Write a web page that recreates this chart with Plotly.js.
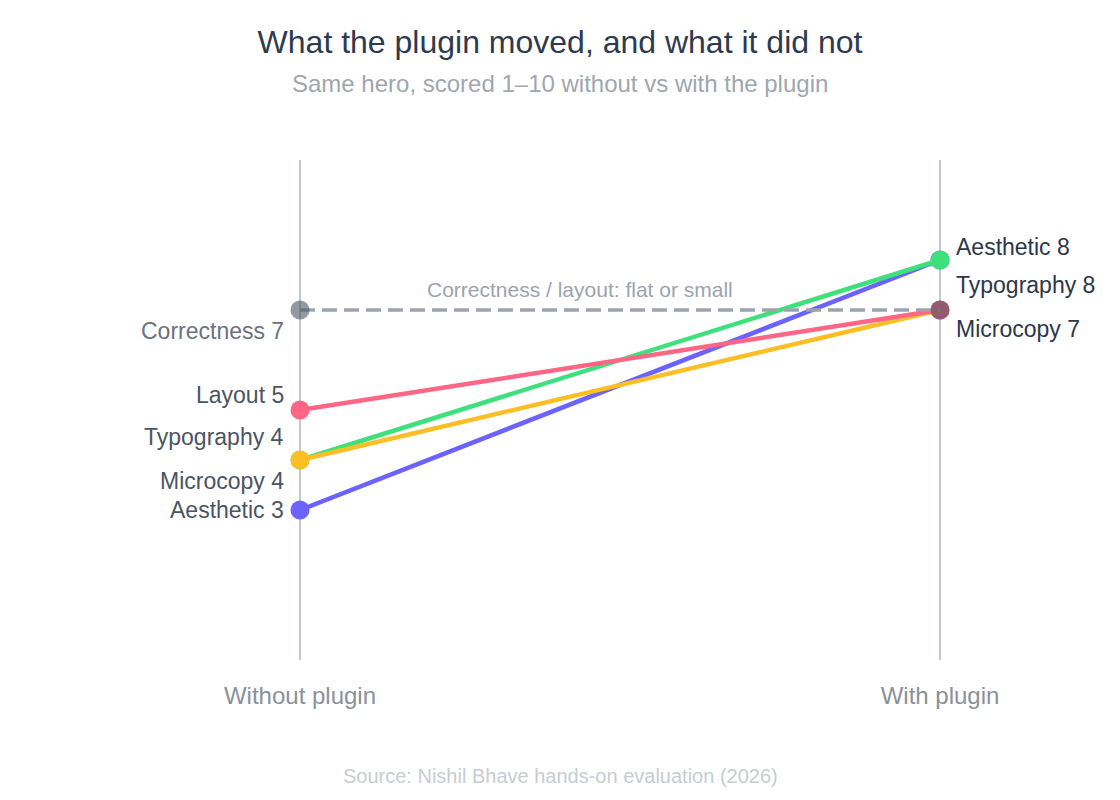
<!DOCTYPE html>
<html>
<head>
<meta charset="utf-8">
<script src="https://cdn.plot.ly/plotly-3.0.1.min.js"></script>
<style>html,body{margin:0;padding:0;background:#fff;}#chart{width:1120px;height:800px;}</style>
</head>
<body>
<div id="chart"></div>
<script>
// Data
const stages = ["Without plugin", "With plugin"];
const criteria = ["Aesthetic", "Typography", "Microcopy", "Layout", "Correctness"];
const withoutPlugin = [3, 4, 4, 5, 7];
const withPlugin = [8, 8, 7, 7, 7];

// Styles
const colors = ["#6c63ff", "#3ee07c", "#fbbf24", "#ff6584", "#9ca3af"];
const leftShift = {Aesthetic: 0, Typography: 23, Microcopy: -21, Layout: 15, Correctness: -21};
const rightShift = {Aesthetic: 13, Typography: -25, Microcopy: -19};
const font = '"Liberation Sans", Arial, sans-serif';
const py = p => (660 - p) / 500; // paper y from pixel row

const traces = criteria.map((c, i) => {
  const isFlat = c === "Correctness";
  return {
    type: "scatter",
    mode: "lines+markers",
    x: [0, 1],
    y: [withoutPlugin[i], withPlugin[i]],
    name: c,
    line: {color: colors[i], width: isFlat ? 3.5 : 4.5, dash: isFlat ? "15px,7px" : "solid"},
    marker: isFlat ? {size: 19, color: "rgba(75,85,99,0.6)"} : {size: 19, color: colors[i]},
    hoverinfo: "skip",
    cliponaxis: false
  };
});

const annotations = [];
criteria.forEach((c, i) => {
  annotations.push({
    x: 0, y: withoutPlugin[i], xref: "x", yref: "y",
    text: c + " " + withoutPlugin[i],
    showarrow: false, xanchor: "right", yanchor: "middle",
    xshift: -14, yshift: leftShift[c],
    font: {family: font, size: 23, color: c === "Correctness" ? "#6b7280" : "#4b5563"}
  });
  if (rightShift[c] !== undefined) {
    annotations.push({
      x: 1, y: withPlugin[i], xref: "x", yref: "y",
      text: c + " " + withPlugin[i],
      showarrow: false, xanchor: "left", yanchor: "middle",
      xshift: 14, yshift: rightShift[c],
      font: {family: font, size: 23, color: "#2d3748"}
    });
  }
});
annotations.push({
  x: 0.4375, y: 7, xref: "x", yref: "y", text: "Correctness / layout: flat or small",
  showarrow: false, xanchor: "center", yanchor: "middle", yshift: 21,
  font: {family: font, size: 21, color: "#9ca3af"}
});
annotations.push({
  x: 0.5, y: py(83), xref: "paper", yref: "paper",
  text: "Same hero, scored 1\u201310 without vs with the plugin",
  showarrow: false, xanchor: "center", yanchor: "middle",
  font: {family: font, size: 24, color: "#a0a6b0"}
});
annotations.push({
  x: 0.5, y: py(776), xref: "paper", yref: "paper",
  text: "Source: Nishil Bhave hands-on evaluation (2026)",
  showarrow: false, xanchor: "center", yanchor: "middle",
  font: {family: font, size: 20, color: "#c8ccd3"}
});

const layout = {
  width: 1120, height: 800,
  paper_bgcolor: "#ffffff", plot_bgcolor: "#ffffff",
  margin: {l: 100, r: 100, t: 160, b: 140},
  showlegend: false,
  title: {
    text: "What the plugin moved, and what it did not",
    x: 0.5, xref: "paper", y: 1 - 42/800, yref: "container", yanchor: "middle",
    font: {family: font, size: 32, color: "#2d3a4f"}
  },
  xaxis: {
    range: [-0.3125, 1.125],
    tickvals: [0, 1], ticktext: stages,
    showgrid: true, gridcolor: "#c4c8cf", gridwidth: 1.5,
    zeroline: false, showline: false, ticks: "",
    ticklabelstandoff: 19,
    tickfont: {family: font, size: 24, color: "#8a919b"},
    fixedrange: true
  },
  yaxis: {
    range: [0, 10], visible: false, showgrid: false, zeroline: false, fixedrange: true
  },
  annotations: annotations,
  font: {family: font}
};

Plotly.newPlot("chart", traces, layout, {displayModeBar: false, staticPlot: true});
</script>
</body>
</html>
